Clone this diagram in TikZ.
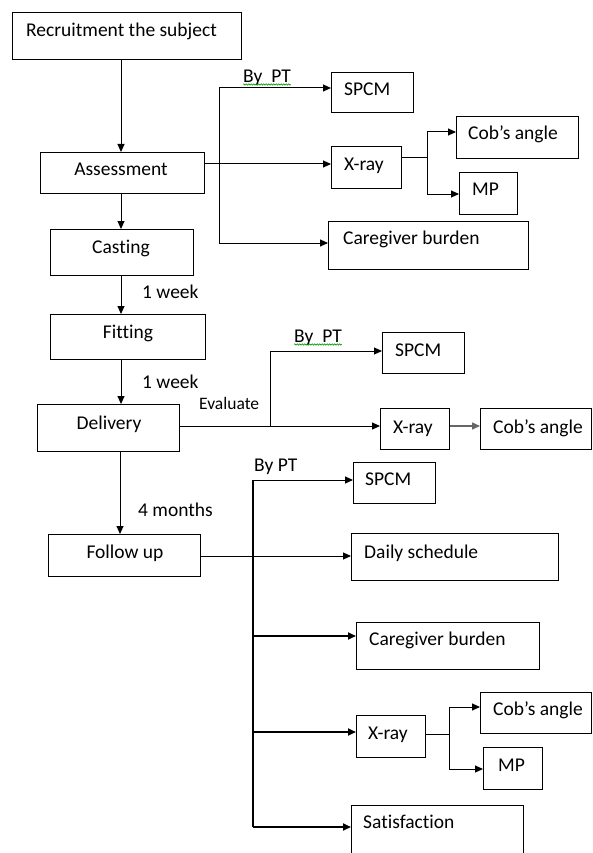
\documentclass[tikz,border=0pt]{standalone}
\usepackage{fontspec}
\setmainfont{Carlito}[Ligatures=NoCommon]
\usetikzlibrary{arrows.meta,decorations.pathmorphing}
\tikzset{
  box/.style={draw, line width=1pt, anchor=north west, inner sep=0pt},
  txt/.style={inner sep=0pt, text height=12.6pt, text depth=0pt, font=\fontsize{19.5}{22}\selectfont},
  smalltxt/.style={txt, text height=11pt, font=\fontsize{17.5}{20}\selectfont},
  conn/.style={line width=1pt},
  arr/.style={line width=1pt, -{Triangle[length=8pt,width=7pt]}},
  thickarr/.style={line width=1.7pt, -{Triangle[length=8pt,width=7pt]}},
  wavy/.style={decorate, decoration={snake, amplitude=0.7pt, segment length=2.5pt}, green!60!black, line width=0.6pt},
}
\begin{document}
\begin{tikzpicture}[x=1pt,y=-1pt]
\useasboundingbox (0,0) rectangle (592,853);
\clip (0,0) rectangle (592,853);
\fill[white] (0,0) rectangle (592,853);
% boxes
\node[box, minimum width=229pt, minimum height=47pt] (recruit) at (12,12) {};
\node[box, minimum width=164pt, minimum height=41pt] (assess) at (40,152) {};
\node[box, minimum width=143pt, minimum height=46pt] (casting) at (50,229) {};
\node[box, minimum width=155pt, minimum height=45pt] (fitting) at (50,314) {};
\node[box, minimum width=142pt, minimum height=47pt] (delivery) at (37,404) {};
\node[box, minimum width=152pt, minimum height=42pt] (followup) at (48,534) {};
\node[box, minimum width=82pt, minimum height=40pt] (spcmA) at (331,72) {};
\node[box, minimum width=70pt, minimum height=42pt] (xrayA) at (331,146) {};
\node[box, minimum width=122pt, minimum height=42pt] (cobA) at (456,116) {};
\node[box, minimum width=58pt, minimum height=42pt] (mpA) at (459,172) {};
\node[box, minimum width=200pt, minimum height=48pt] (careA) at (328,221) {};
\node[box, minimum width=82pt, minimum height=41pt] (spcmB) at (382,332) {};
\node[box, minimum width=69pt, minimum height=41pt] (xrayB) at (380,408) {};
\node[box, minimum width=111pt, minimum height=41pt] (cobB) at (480,408) {};
\node[box, minimum width=82pt, minimum height=41pt] (spcmC) at (353,462) {};
\node[box, minimum width=207pt, minimum height=47pt] (daily) at (351,533) {};
\node[box, minimum width=183pt, minimum height=47pt] (careC) at (356,622) {};
\node[box, minimum width=69pt, minimum height=42pt] (xrayC) at (356,715) {};
\node[box, minimum width=111pt, minimum height=41pt] (cobC) at (480,692) {};
\node[box, minimum width=59pt, minimum height=42pt] (mpC) at (483,747) {};
\node[box, minimum width=172pt, minimum height=65pt] (satis) at (351,805) {};
% texts
\node[txt, anchor=west] (tRecruit) at (26,30) {Recruitment the subject};
\node[txt] (tAssess) at (121,169) {Assessment};
\node[txt] (tCasting) at (121,247) {Casting};
\node[txt] (tFitting) at (128,332) {Fitting};
\node[txt] (tDelivery) at (109,423) {Delivery};
\node[txt] (tFollow) at (125,552) {Follow up};
\node[txt, anchor=west] (tSpcmA) at (344,89) {SPCM};
\node[txt, anchor=west] (tXrayA) at (344,164) {X-ray};
\node[txt, anchor=west] (tCobA) at (468,133) {Cob’s angle};
\node[txt, anchor=west] (tMpA) at (472,189) {MP};
\node[txt, anchor=west] (tCareA) at (343,238) {Caregiver burden};
\node[txt, anchor=west] (tSpcmB) at (395,350) {SPCM};
\node[txt, anchor=west] (tXrayB) at (393,427) {X-ray};
\node[txt, anchor=west] (tCobB) at (493,427) {Cob’s angle};
\node[txt, anchor=west] (tSpcmC) at (365,479) {SPCM};
\node[txt, anchor=west] (tDaily) at (364,552) {Daily schedule};
\node[txt, anchor=west] (tCareC) at (369,639) {Caregiver burden};
\node[txt, anchor=west] (tXrayC) at (368,733) {X-ray};
\node[txt, anchor=west] (tCobC) at (493,709) {Cob’s angle};
\node[txt, anchor=west] (tMpC) at (498,765) {MP};
\node[txt, anchor=west] (tSatis) at (363,822) {Satisfaction};
% labels
\node[txt, anchor=west] (lbA) at (243,76) {By\ \ PT};
\draw[wavy] ([yshift=-2pt]lbA.south west) -- ([yshift=-2pt]lbA.south east);
\node[txt, anchor=west] (lbB) at (294,336) {By\ \ PT};
\draw[wavy] ([yshift=-2pt]lbB.south west) -- ([yshift=-2pt]lbB.south east);
\node[txt, anchor=west] (lbC) at (254,465) {By PT};
\node[smalltxt, anchor=west] (lbEval) at (199,404) {Evaluate};
\node[txt, anchor=west] (lbW1) at (142,292) {1 week};
\node[txt, anchor=west] (lbW2) at (142,382) {1 week};
\node[txt, anchor=west] (lbM4) at (138,510) {4 months};
% main column
\coordinate (mx) at (121,0);
\coordinate (mx2) at (120,0);
\draw[arr] (recruit.south -| mx) -- (assess.north -| mx);
\draw[arr] (assess.south -| mx) -- (casting.north -| mx);
\draw[arr] (casting.south -| mx) -- (fitting.north -| mx);
\draw[arr] (fitting.south -| mx) -- (delivery.north -| mx);
\draw[arr] (delivery.south -| mx2) -- (followup.north -| mx2);
% assessment branch
\coordinate (ja) at (219,164);
\coordinate (jatop) at (219,88);
\coordinate (jabot) at (219,243);
\draw[conn] (assess.east |- ja) -- (ja);
\draw[conn] (jatop) -- (jabot);
\draw[arr] (jatop) -- (jatop -| spcmA.west);
\draw[arr] (ja) -- (ja -| xrayA.west);
\draw[arr] (jabot) -- (jabot -| careA.west);
\coordinate (ka) at (427,158);
\coordinate (katop) at (427,132);
\coordinate (kabot) at (427,194);
\draw[conn] (xrayA.east |- ka) -- (ka);
\draw[conn] (katop) -- (kabot);
\draw[arr] (katop) -- (katop -| cobA.west);
\draw[arr] (kabot) -- (kabot -| mpA.west);
% delivery branch
\coordinate (jb) at (270,426);
\coordinate (jbtop) at (270,351);
\draw[conn] (delivery.east |- jb) -- (jb) -- (jbtop);
\draw[arr] (jbtop) -- (jbtop -| spcmB.west);
\draw[arr] (jb) -- (jb -| xrayB.west);
\draw[arr, draw=gray!80!black, fill=black, line width=1.5pt] (xrayB.east |- jb) -- (jb -| cobB.west);
% follow-up branch
\coordinate (jctop) at (253,480);
\coordinate (jcmid) at (253,556);
\coordinate (jccare) at (253,636);
\coordinate (jcx) at (253,732);
\coordinate (jcbot) at (253,827);
\draw[line width=2pt] (jctop) -- (jcbot);
\draw[conn] (followup.east |- jcmid) -- (jcmid);
\draw[arr] (jctop) -- (jctop -| spcmC.west);
\draw[arr] (jcmid) -- (jcmid -| daily.west);
\draw[thickarr] (jccare) -- (jccare -| careC.west);
\draw[thickarr] (jcx) -- (jcx -| xrayC.west);
\draw[thickarr] (jcbot) -- (jcbot -| satis.west);
\coordinate (kc) at (449,734);
\coordinate (kctop) at (449,707);
\coordinate (kcbot) at (449,769);
\draw[conn] (xrayC.east |- kc) -- (kc);
\draw[conn] (kctop) -- (kcbot);
\draw[arr] (kctop) -- (kctop -| cobC.west);
\draw[arr] (kcbot) -- (kcbot -| mpC.west);
\end{tikzpicture}
\end{document}
